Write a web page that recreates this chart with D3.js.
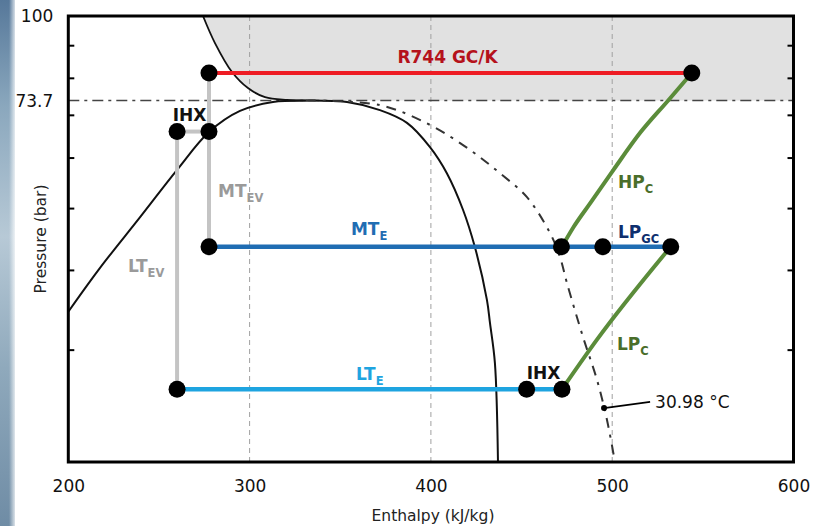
<!DOCTYPE html>
<html>
<head>
<meta charset="utf-8">
<script src="https://cdn.jsdelivr.net/npm/d3@7"></script>
<style>
  html, body { margin: 0; padding: 0; background: #ffffff; }
  svg { display: block; }
  text { font-family: "DejaVu Sans", Verdana, sans-serif; }
</style>
</head>
<body>
<svg id="chart" width="832" height="526"></svg>
<script>
// ---------- data (enthalpy kJ/kg, pressure bar) ----------
const xTicks = [200, 300, 400, 500, 600];
const xGrid = [300, 400, 500];
const yMinorTicks = [30, 40, 50, 60, 70, 80, 90];
const yTickLabels = [100, 73.7];
const pCrit = 73.7;

// saturation dome
const domeH = [200, 217.5, 239.6, 260.0, 277.6, 294.7, 312.9, 331, 353.7, 371.9, 386.8, 399.5, 408.8, 417.7, 424.3, 430.9, 432.6, 435.3, 437.0];
const domeP = [34.4, 40.3, 48.4, 57.4, 65.8, 71.0, 73.3, 73.7, 73.3, 71.2, 68.0, 62.3, 56.7, 49.7, 43.4, 35.9, 33.0, 28.6, 20];

// critical isotherm 30.98 °C, supercritical part (solid) and subcritical part (dash-dot)
const isoSupH = [274.3, 280.9, 290.3, 299.1, 308.5, 320.6, 331];
const isoSupP = [100, 90.7, 81.7, 77.1, 74.6, 73.85, 73.7];
const isoSubH = [331, 371.9, 399.5, 421.5, 438.1, 453.0, 465.7, 471.2, 475.1, 483.9, 491.6, 497.1, 501.5];
const isoSubP = [73.7, 72.5, 67.5, 61.7, 56.7, 52.0, 45.7, 41.9, 38.1, 31.4, 26.9, 23.3, 20];

// cycle
const gcLineH = [277.6, 543.9], gcLineP = [81.4, 81.4];
const mtLineH = [277.6, 532.3], mtLineP = [43.5, 43.5];
const ltLineH = [260, 472.3], ltLineP = [26.0, 26.0];
const ihxLineH = [260, 277.6], ihxLineP = [65.9, 65.9];
const mtEvH = [277.6, 277.6], mtEvP = [81.4, 43.5];
const ltEvH = [260, 260], ltEvP = [65.9, 26.0];
const hpcH = [472.3, 478.7, 487.9, 500.7, 515.4, 531.0, 543.9];
const hpcP = [43.5, 46.7, 50.9, 57.4, 65.6, 73.8, 81.4];
const lpcH = [472.3, 491.6, 532.3];
const lpcP = [26.0, 31.1, 43.5];
const dotH = [277.6, 543.9, 260, 277.6, 277.6, 472.0, 494.8, 532.3, 260, 452.8, 472.3];
const dotP = [81.4, 81.4, 65.9, 65.9, 43.5, 43.5, 43.5, 43.5, 26.0, 26.0, 26.0];

// isotherm marker
const isoMarkH = 495.5, isoMarkP = 24.3, isoLeadH = 520.9, isoLeadP = 24.85;

// annotation labels
const labelH = [409.2, 266.9, 282.6, 232.9, 355.9, 503.2, 503.2, 502.6, 358.7, 462.1];
const labelP = [84.4, 68.5, 52.0, 39.7, 45.4, 53.7, 44.9, 29.96, 26.9, 27.0];
const labelMain = ["R744 GC/K", "IHX", "MT", "LT", "MT", "HP", "LP", "LP", "LT", "IHX"];
const labelSub = ["", "", "EV", "EV", "E", "C", "GC", "C", "E", ""];
const labelColor = ["#b5121b", "#111111", "#9a9a9a", "#9a9a9a", "#1f6db3", "#4a6e2a", "#0e2f6e", "#4a6e2a", "#1ea4e0", "#111111"];
const labelAnchor = ["middle", "middle", "start", "start", "start", "start", "start", "start", "start", "middle"];

// ---------- drawing ----------
const W = 832, H = 526;
const svg = d3.select("#chart");

// blurred photo strip on the left edge
const defs = svg.append("defs");
const grad = defs.append("linearGradient").attr("id", "strip").attr("x1", 0).attr("y1", 0).attr("x2", 0).attr("y2", 1);
[["0%", "#56789a"], ["20%", "#8aa7bd"], ["45%", "#b7c9d6"], ["70%", "#8fa9bc"], ["100%", "#6f8ca5"]]
  .forEach(s => grad.append("stop").attr("offset", s[0]).attr("stop-color", s[1]));
const grad2 = defs.append("linearGradient").attr("id", "fade").attr("x1", 0).attr("y1", 0).attr("x2", 1).attr("y2", 0);
grad2.append("stop").attr("offset", "0%").attr("stop-color", "#ffffff").attr("stop-opacity", 0);
grad2.append("stop").attr("offset", "100%").attr("stop-color", "#ffffff").attr("stop-opacity", 1);
svg.append("rect").attr("x", 0).attr("y", 0).attr("width", 15).attr("height", H).attr("fill", "url(#strip)");
svg.append("rect").attr("x", 9).attr("y", 0).attr("width", 8).attr("height", H).attr("fill", "url(#fade)");

const x = d3.scaleLinear().domain([200, 600]).range([68.3, 793.5]);
const y = d3.scaleLog().domain([20, 100]).range([462, 16]);

const zip = (hs, ps) => hs.map((h, i) => [h, ps[i]]);
const line = d3.line().x(d => x(d[0])).y(d => y(d[1]));
const smooth = d3.line().x(d => x(d[0])).y(d => y(d[1])).curve(d3.curveMonotoneX);
const smoothC = d3.line().x(d => x(d[0])).y(d => y(d[1])).curve(d3.curveCatmullRom.alpha(0.5));

const g = svg.append("g");

// supercritical grey region
const greyPoly = zip(isoSupH, isoSupP).concat([[600, pCrit], [600, 100]]);
g.append("path").attr("d", line(greyPoly) + "Z").attr("fill", "#e1e1e1").attr("stroke", "none");

// vertical dashed gridlines
g.selectAll(".grid").data(xGrid).join("line")
  .attr("x1", d => x(d)).attr("x2", d => x(d)).attr("y1", y(100)).attr("y2", y(20))
  .attr("stroke", "#a0a0a0").attr("stroke-width", 1).attr("stroke-dasharray", "5,4");

// critical pressure dash-dot line
g.append("line").attr("x1", x(200)).attr("x2", x(600)).attr("y1", y(pCrit)).attr("y2", y(pCrit))
  .attr("stroke", "#444").attr("stroke-width", 1.6).attr("stroke-dasharray", "11,5,3,5");

// dome
g.append("path").attr("d", smoothC(zip(domeH, domeP))).attr("fill", "none").attr("stroke", "#111").attr("stroke-width", 2);
// isotherms
g.append("path").attr("d", smoothC(zip(isoSupH, isoSupP))).attr("fill", "none").attr("stroke", "#111").attr("stroke-width", 1.8);
g.append("path").attr("d", smoothC(zip(isoSubH, isoSubP))).attr("fill", "none").attr("stroke", "#333")
  .attr("stroke-width", 2).attr("stroke-dasharray", "10,7,3,7");

// frame
g.append("rect").attr("x", x(200)).attr("y", y(100)).attr("width", x(600) - x(200)).attr("height", y(20) - y(100))
  .attr("fill", "none").attr("stroke", "#000").attr("stroke-width", 3);

// axes
const axL = g.append("g").attr("transform", `translate(${x(200)},0)`)
  .call(d3.axisLeft(y).tickValues(yMinorTicks).tickSize(-6).tickFormat(""));
const axR = g.append("g").attr("transform", `translate(${x(600)},0)`)
  .call(d3.axisRight(y).tickValues(yMinorTicks).tickSize(-6).tickFormat(""));
[axL, axR].forEach(a => {
  a.select(".domain").remove();
  a.selectAll(".tick line").attr("stroke", "#000").attr("stroke-width", 2);
});
const axLab = g.append("g").attr("transform", `translate(${x(200)},0)`)
  .call(d3.axisLeft(y).tickValues(yTickLabels).tickSize(0).tickPadding(15).tickFormat(d => String(d)));
axLab.select(".domain").remove();
axLab.selectAll("text").attr("font-size", 17).attr("fill", "#111").attr("font-family", "DejaVu Sans");

const axB = g.append("g").attr("transform", `translate(0,${y(20)})`)
  .call(d3.axisBottom(x).tickValues(xTicks).tickSize(0).tickPadding(18).tickFormat(d3.format("d")));
axB.select(".domain").remove();
axB.selectAll("text").attr("font-size", 17).attr("fill", "#111").attr("font-family", "DejaVu Sans");

// axis titles
svg.append("text").attr("x", 433).attr("y", 521).attr("text-anchor", "middle")
  .attr("font-size", 15.5).attr("fill", "#222").text("Enthalpy (kJ/kg)");
svg.append("text").attr("transform", "translate(46,239) rotate(-90)").attr("text-anchor", "middle")
  .attr("font-size", 15.5).attr("fill", "#222").text("Pressure (bar)");

// cycle lines
const seg = (hs, ps, color, w) => g.append("path").attr("d", line(zip(hs, ps)))
  .attr("fill", "none").attr("stroke", color).attr("stroke-width", w);
seg(mtEvH, mtEvP, "#c4c4c4", 4);
seg(ltEvH, ltEvP, "#c4c4c4", 4);
seg(ihxLineH, ihxLineP, "#c4c4c4", 4);
seg(gcLineH, gcLineP, "#ee1c24", 4);
seg(mtLineH, mtLineP, "#1f6db3", 4.5);
seg(ltLineH, ltLineP, "#1ea4e0", 4.5);
g.append("path").attr("d", smooth(zip(hpcH, hpcP))).attr("fill", "none").attr("stroke", "#5b8c3a").attr("stroke-width", 4);
g.append("path").attr("d", smooth(zip(lpcH, lpcP))).attr("fill", "none").attr("stroke", "#5b8c3a").attr("stroke-width", 4);

// state points
g.selectAll(".dot").data(zip(dotH, dotP)).join("circle")
  .attr("cx", d => x(d[0])).attr("cy", d => y(d[1])).attr("r", 8.5).attr("fill", "#000");

// isotherm marker
g.append("circle").attr("cx", x(isoMarkH)).attr("cy", y(isoMarkP)).attr("r", 3).attr("fill", "#000");
g.append("line").attr("x1", x(isoMarkH)).attr("y1", y(isoMarkP)).attr("x2", x(isoLeadH)).attr("y2", y(isoLeadP))
  .attr("stroke", "#000").attr("stroke-width", 1.8);
g.append("text").attr("x", x(isoLeadH) + 5).attr("y", y(isoLeadP) + 6).attr("font-size", 17).attr("fill", "#111")
  .text("30.98 °C");

// labels
labelMain.forEach((m, i) => {
  const t = g.append("text").attr("x", x(labelH[i])).attr("y", y(labelP[i]))
    .attr("text-anchor", labelAnchor[i]).attr("fill", labelColor[i]).attr("font-weight", "bold")
    .attr("font-size", 17);
  t.append("tspan").text(m);
  if (labelSub[i]) t.append("tspan").attr("font-size", 11.5).attr("dy", 5).text(labelSub[i]);
});
</script>
</body>
</html>
